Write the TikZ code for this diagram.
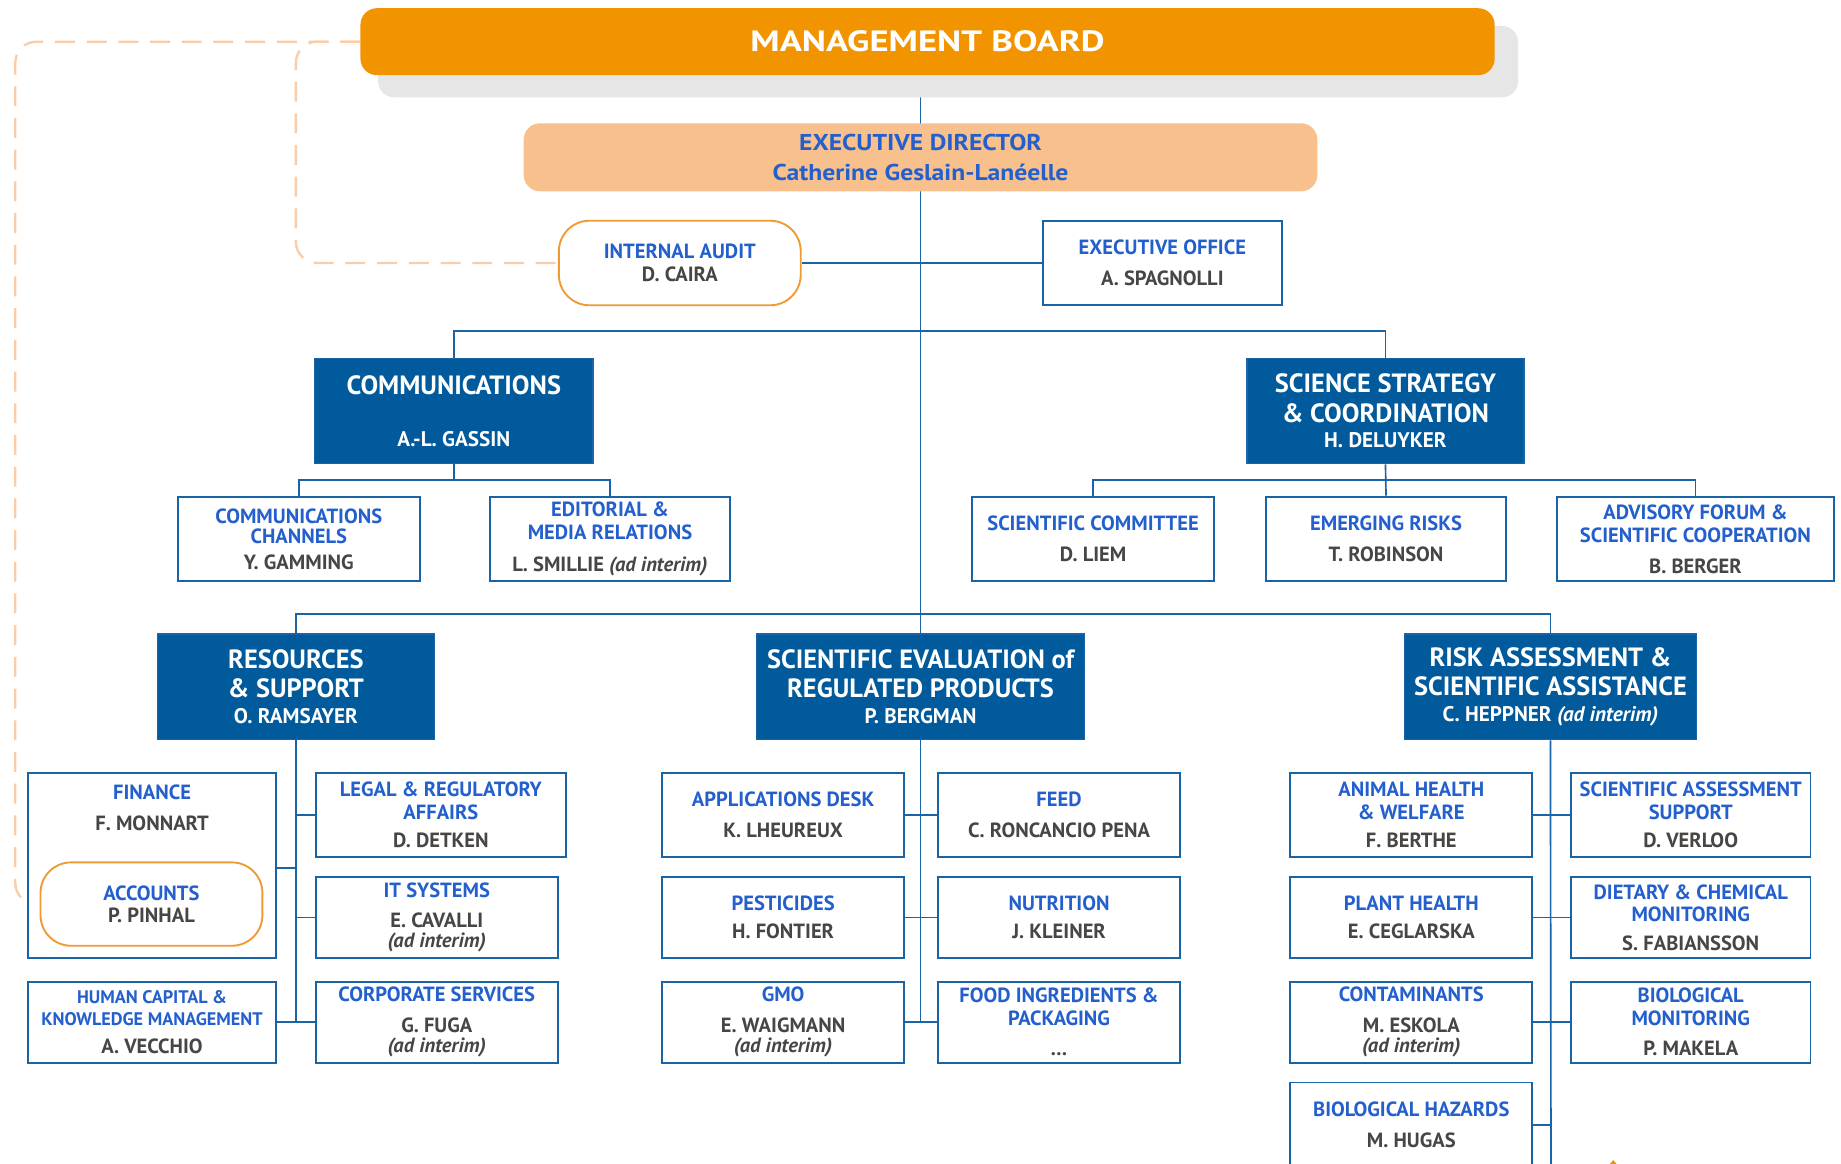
\documentclass[tikz,border=0pt]{standalone}
\usepackage{fontspec}
\setmainfont{PT Sans}
\newfontfamily\BoardFont{PT Sans}[FakeStretch=1.25]
\newfontfamily\EdFont{PT Sans}[FakeStretch=1.12]
\usetikzlibrary{backgrounds,shapes.geometric}
\definecolor{dblue}{RGB}{0,90,155}
\definecolor{lblue}{RGB}{25,100,165}
\definecolor{tblue}{RGB}{35,95,205}
\definecolor{ngray}{RGB}{72,70,68}
\definecolor{borange}{RGB}{242,148,0}
\definecolor{lorange}{RGB}{247,192,140}
\definecolor{dorange}{RGB}{250,205,168}
\definecolor{aorange}{RGB}{240,155,50}
\definecolor{sgray}{RGB}{230,230,230}
\newcommand{\Nm}[1]{\textcolor{ngray}{#1}}
\newcommand{\AdInt}{\textcolor{ngray}{\itshape(ad interim)}}
\newcommand{\Dn}[1]{{\fontsize{18}{18}\selectfont #1}}
\begin{document}
\begin{tikzpicture}[x=1pt,y=-1pt,
  conn/.style={draw=lblue, line width=1.4pt},
  subbox/.style={draw=lblue, line width=1.6pt, fill=white, minimum width=206pt, minimum height=72pt, inner sep=0pt, align=center, text=tblue, font=\bfseries\fontsize{17.5}{19}\selectfont},
  deptbox/.style={fill=dblue, draw=lblue, line width=1pt, text=white, minimum height=90pt, inner sep=0pt, align=center, font=\bfseries\fontsize{22.5}{25}\selectfont},
  ovalbox/.style={subbox, draw=aorange, rounded corners=26pt},
  dashline/.style={draw=dorange, line width=2pt, dash pattern=on 17pt off 10pt, rounded corners=18pt}]
\useasboundingbox (0,0) rectangle (1568,991);
\clip (0,0) rectangle (1568,991);

% top
\fill[sgray, rounded corners=14pt] (322,22) rectangle (1293,83);
\node[fill=borange, rounded corners=14pt, minimum width=966pt, minimum height=57pt, text=white, inner sep=0pt, font=\BoardFont\bfseries\fontsize{25}{30}\selectfont] (board) at (790,35.5) {MANAGEMENT BOARD};
\node[fill=lorange, rounded corners=14pt, minimum width=676pt, minimum height=58pt, inner sep=0pt, text=tblue, align=center, font=\EdFont\bfseries\fontsize{19.5}{25}\selectfont] (ed) at (784,134) {EXECUTIVE DIRECTOR\\Catherine Geslain-Lanéelle};
\node[ovalbox] (ia) at (579,224) {INTERNAL AUDIT\\[1pt]\Nm{D. CAIRA}};
\node[subbox, minimum width=204pt] (eo) at (990,224) {EXECUTIVE OFFICE\\[7pt]\Nm{A. SPAGNOLLI}};

% second level
\node[deptbox, minimum width=237pt] (comm) at (386.5,350) {COMMUNICATIONS\\[19pt]\Dn{A.-L. GASSIN}};
\node[deptbox, minimum width=236pt] (ss) at (1180,350) {SCIENCE STRATEGY\\\& COORDINATION\\[-3pt]\Dn{H. DELUYKER}};
\node[subbox] (cc) at (254.5,459) {COMMUNICATIONS\\[-2pt]CHANNELS\\[3pt]\Nm{Y. GAMMING}};
\node[subbox, minimum width=205pt] (edm) at (519.5,459) {EDITORIAL \&\\MEDIA RELATIONS\\[8pt]\Nm{L. SMILLIE \textit{(ad interim)}}};
\node[subbox] (sc) at (931,459) {SCIENTIFIC COMMITTEE\\[7pt]\Nm{D. LIEM}};
\node[subbox, minimum width=205pt] (er) at (1180.5,459) {EMERGING RISKS\\[7pt]\Nm{T. ROBINSON}};
\node[subbox, minimum width=236pt] (af) at (1444,459) {ADVISORY FORUM \&\\[1pt]SCIENTIFIC COOPERATION\\[7pt]\Nm{B. BERGER}};

% third level
\node[deptbox, minimum width=236pt] (res) at (252,585) {RESOURCES\\\& SUPPORT\\[-3pt]\Dn{O. RAMSAYER}};
\node[deptbox, minimum width=280pt] (sev) at (784,585) {SCIENTIFIC EVALUATION of\\REGULATED PRODUCTS\\[-3pt]\Dn{P. BERGMAN}};
\node[deptbox, minimum width=249pt] (risk) at (1320.5,585) {RISK ASSESSMENT \&\\SCIENTIFIC ASSISTANCE\\[-3pt]\Dn{C. HEPPNER \textit{(ad interim)}}};

% resources
\node[subbox, minimum width=211pt, minimum height=158pt] (fin) at (129.5,737) {};
\node[text=tblue, align=center, inner sep=0pt, font=\bfseries\fontsize{17.5}{19}\selectfont] (fintxt) at (129.5,688) {FINANCE\\[7pt]\Nm{F. MONNART}};
\node[ovalbox, minimum width=189pt, minimum height=71pt] (acc) at (129,770) {ACCOUNTS\\\Nm{P. PINHAL}};
\node[subbox, minimum width=211pt, minimum height=69pt, font=\bfseries\fontsize{15.5}{19}\selectfont] (hc) at (129.5,870.5) {HUMAN CAPITAL \&\\KNOWLEDGE MANAGEMENT\\[5pt]{\fontsize{17.5}{19}\selectfont\Nm{A. VECCHIO}}};
\node[subbox, minimum width=213pt] (legal) at (375.5,694) {LEGAL \& REGULATORY\\AFFAIRS\\[5pt]\Nm{D. DETKEN}};
\node[subbox, minimum height=69pt] (it) at (372,781.5) {IT SYSTEMS\\[7pt]\Nm{E. CAVALLI}\\[-2pt]\AdInt};
\node[subbox, minimum height=69pt] (corp) at (372,870.5) {CORPORATE SERVICES\\[7pt]\Nm{G. FUGA}\\[-2pt]\AdInt};

% scientific evaluation
\node[subbox] (app) at (667,694) {APPLICATIONS DESK\\[7pt]\Nm{K. LHEUREUX}};
\node[subbox] (feed) at (902,694) {FEED\\[7pt]\Nm{C. RONCANCIO PENA}};
\node[subbox, minimum height=69pt] (pest) at (667,781.5) {PESTICIDES\\[5pt]\Nm{H. FONTIER}};
\node[subbox, minimum height=69pt] (nut) at (902,781.5) {NUTRITION\\[5pt]\Nm{J. KLEINER}};
\node[subbox, minimum height=69pt] (gmo) at (667,870.5) {GMO\\[7pt]\Nm{E. WAIGMANN}\\[-2pt]\AdInt};
\node[subbox, minimum height=69pt] (fi) at (902,870.5) {FOOD INGREDIENTS \&\\PACKAGING\\[7pt]\Nm{\dots}};

% risk assessment
\node[subbox] (ah) at (1202,694) {ANIMAL HEALTH\\\& WELFARE\\[5pt]\Nm{F. BERTHE}};
\node[subbox, minimum width=204pt] (sas) at (1440,694) {SCIENTIFIC ASSESSMENT\\SUPPORT\\[5pt]\Nm{D. VERLOO}};
\node[subbox, minimum height=69pt] (ph) at (1202,781.5) {PLANT HEALTH\\[5pt]\Nm{E. CEGLARSKA}};
\node[subbox, minimum width=204pt, minimum height=69pt] (dc) at (1440,781.5) {DIETARY \& CHEMICAL\\MONITORING\\[5pt]\Nm{S. FABIANSSON}};
\node[subbox, minimum height=69pt] (ct) at (1202,870.5) {CONTAMINANTS\\[7pt]\Nm{M. ESKOLA}\\[-2pt]\AdInt};
\node[subbox, minimum width=204pt, minimum height=69pt] (bm) at (1440,870.5) {BIOLOGICAL\\MONITORING\\[7pt]\Nm{P. MAKELA}};
\node[subbox] (bh) at (1202,958) {BIOLOGICAL HAZARDS\\[7pt]\Nm{M. HUGAS}};

% logo fragment
\node[star, star points=5, fill=borange, minimum size=24pt, inner sep=0pt] (st1) at (1374,1000) {};
\node[star, star points=5, fill=borange, minimum size=20pt, inner sep=0pt, rotate=20] (st2) at (1344,1003) {};
\node[star, star points=5, fill=borange, minimum size=20pt, inner sep=0pt, rotate=-20] (st3) at (1403,1003) {};

\coordinate (bar1) at (784,282);
\coordinate (bar2) at (386.5,409);
\coordinate (bar3) at (1180,409);
\coordinate (bar4) at (784,523);
\coordinate (rbot) at (1321,1000);
\coordinate (dl1) at (252,130);
\coordinate (dl2) at (13,400);

\begin{scope}[on background layer]
\draw[conn] (board.south -| ed.north) -- (sev.north);
\draw[conn] (ia.east) -- (eo.west);
\draw[conn] (comm.north) |- (bar1) -| (ss.north);
\draw[conn] (comm.south) -- (bar2);
\draw[conn] (cc.north) |- (bar2) -| (edm.north);
\draw[conn] (ss.south) -- (er.north);
\draw[conn] (sc.north) |- (bar3) -| (af.north);
\draw[conn] (res.north) |- (bar4) -| (risk.north);
% resources
\draw[conn] (res.south) -- (res.south |- corp.west);
\draw[conn] (fin.east |- 0,739) -- (res.south |- 0,739);
\draw[conn] (legal.west) -- (legal.west -| res.south);
\draw[conn] (it.west) -- (it.west -| res.south);
\draw[conn] (hc.east) -- (corp.west);
% sci eval
\draw[conn] (sev.south) -- (sev.south |- gmo.east);
\draw[conn] (app.east) -- (feed.west);
\draw[conn] (pest.east) -- (nut.west);
\draw[conn] (gmo.east) -- (fi.west);
% risk
\draw[conn] (risk.south) -- (rbot);
\draw[conn] (ah.east) -- (sas.west);
\draw[conn] (ph.east) -- (dc.west);
\draw[conn] (ct.east) -- (bm.west);
\draw[conn] (bh.east) -- (bh.east -| rbot);
% dashed reporting lines
\draw[dashline] (board.west) -| (dl1) |- (ia.west);
\draw[dashline] (board.west) -| (dl2) |- (acc.west);
\end{scope}
\end{tikzpicture}
\end{document}
